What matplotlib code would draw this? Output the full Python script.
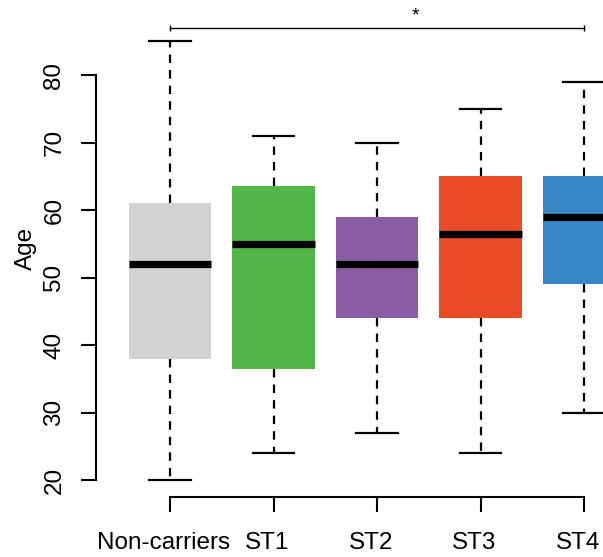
import matplotlib
matplotlib.use("Agg")
import matplotlib.pyplot as plt
import matplotlib.transforms as mtransforms

# ---- data ----
groups = ["Non-carriers", "ST1", "ST2", "ST3", "ST4"]
whisk_lo = [20, 24, 27, 24, 30]
q1 = [38, 36.5, 44, 44, 49]
medians = [52, 55, 52, 56.5, 59]
q3 = [61, 63.6, 59, 65, 65]
whisk_hi = [85, 71, 70, 75, 79]
colors = ["#D1D2D1", "#52B748", "#8B5BA4", "#E84B26", "#3787C8"]
yticks = [20, 30, 40, 50, 60, 70, 80]
ylabel = "Age"
sig_pair = (1, 5)
sig_text = "*"

plt.rcParams["font.family"] = ["Liberation Sans", "DejaVu Sans"]

W, H = 603, 557
fig = plt.figure(figsize=(W / 100, H / 100), dpi=100)
ax = fig.add_axes([96 / W, (H - 497) / H, (W - 96) / W, 497 / H])
ax.set_xlim(1 - 74 / 103.5, 5 + 19 / 103.5)
ax.set_ylim(20 - 17 / 6.75, 80 + 75 / 6.75)

stats = []
for i, g in enumerate(groups):
    stats.append(dict(label=g, whislo=whisk_lo[i], q1=q1[i], med=medians[i],
                      q3=q3[i], whishi=whisk_hi[i], fliers=[]))

bp = ax.bxp(stats, positions=range(1, len(groups) + 1), widths=0.8,
            capwidths=0.4, patch_artist=True, showfliers=False,
            boxprops=dict(linewidth=0),
            medianprops=dict(color="black", linewidth=5.2, solid_capstyle="butt"),
            whiskerprops=dict(color="black", linewidth=1.6, linestyle=(0, (3.8, 3.2))),
            capprops=dict(color="black", linewidth=1.6))
for patch, c in zip(bp["boxes"], colors):
    patch.set_facecolor(c)
    patch.set_edgecolor(c)

for s in ["top", "right"]:
    ax.spines[s].set_visible(False)
ax.spines["left"].set_bounds(min(yticks), max(yticks))
ax.spines["bottom"].set_bounds(1, len(groups))
ax.spines["left"].set_linewidth(1.5)
ax.spines["bottom"].set_linewidth(1.5)
ax.set_yticks(yticks)
ax.set_yticklabels([str(t) for t in yticks], rotation=90, va="center")
ax.tick_params(axis="both", length=11, width=1.5, labelsize=17.5)
ax.tick_params(axis="y", pad=11)
ax.tick_params(axis="x", pad=14)
ax.set_xticks(range(1, len(groups) + 1))
ax.set_xticklabels(groups)
shift = mtransforms.ScaledTranslation(-6 / 100, 0, fig.dpi_scale_trans)
for lbl in ax.get_xticklabels():
    lbl.set_transform(lbl.get_transform() + shift)
ax.set_ylabel(ylabel, fontsize=17.5, labelpad=5)

# significance bracket
ybr = 80 + 75 / 6.75 - 28 / 6.75
ax.plot([sig_pair[0], sig_pair[1]], [ybr, ybr], color="black", lw=1.0, clip_on=False)
ax.vlines([sig_pair[0], sig_pair[1]], ybr - 0.45, ybr + 0.45, color="black", lw=1.0, clip_on=False)
ax.text(sum(sig_pair) / 2 + 0.37, ybr + 0.5, sig_text, ha="center", va="bottom",
        fontsize=14, clip_on=False)

fig.savefig("out.png", dpi=100)
